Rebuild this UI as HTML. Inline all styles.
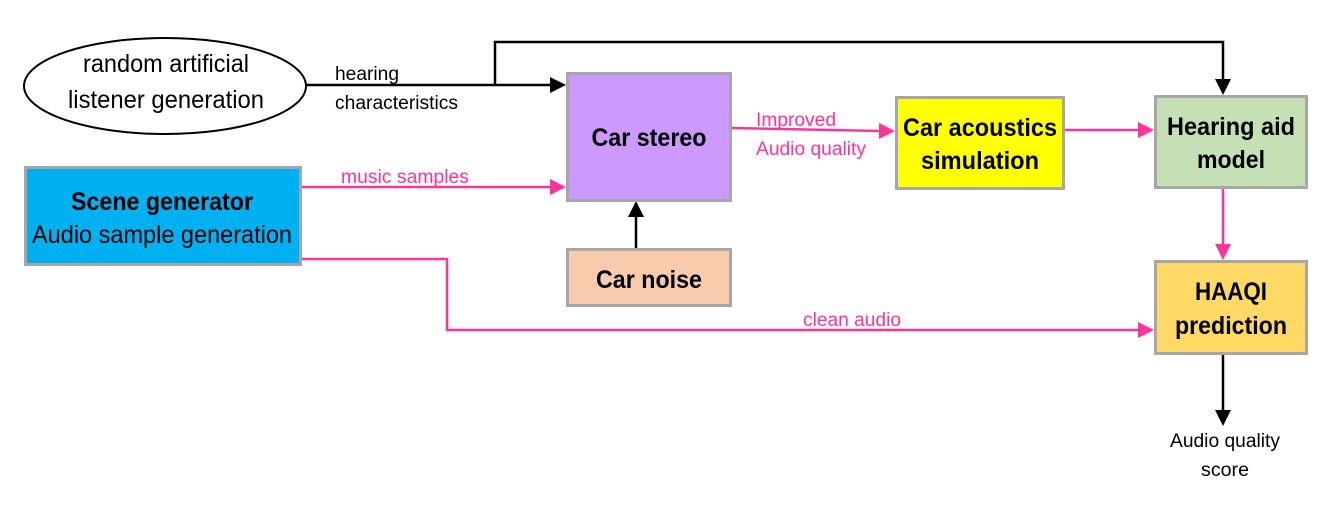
<!DOCTYPE html>
<html><head><meta charset="utf-8"><style>
html,body{margin:0;padding:0;background:#fff;}
svg{display:block;font-family:"Liberation Sans Narrow","Liberation Sans",Arial,sans-serif;}
</style></head><body>
<svg width="1342" height="505" viewBox="0 0 1342 505" xmlns="http://www.w3.org/2000/svg">
<!-- connectors -->
<g fill="none" stroke-width="2.5">
<path d="M306,85 H552" stroke="#000"/>
<path d="M495,85 V42 H1223 V80" stroke="#000"/>
<path d="M301,187 H552" stroke="#ff3399"/>
<path d="M636,248 V215" stroke="#000"/>
<path d="M731,128 L880,131" stroke="#ff3399"/>
<path d="M1064,130 H1140" stroke="#ff3399"/>
<path d="M1223,188 V246" stroke="#ff3399"/>
<path d="M301,259 H447 V330 H1140" stroke="#ff3399"/>
<path d="M1223,355 V412" stroke="#000"/>
</g>
<g>
<path d="M566,85 L550,77 L550,93 z" fill="#000"/>
<path d="M1223,95 L1215,79 L1231,79 z" fill="#000"/>
<path d="M566,187 L550,179 L550,195 z" fill="#ff3399"/>
<path d="M636,201 L628,217 L644,217 z" fill="#000"/>
<path d="M895,131 L879,123 L879,139 z" fill="#ff3399"/>
<path d="M1154,130 L1138,122 L1138,138 z" fill="#ff3399"/>
<path d="M1223,260 L1215,244 L1231,244 z" fill="#ff3399"/>
<path d="M1154,330 L1138,322 L1138,338 z" fill="#ff3399"/>
<path d="M1223,426 L1215,410 L1231,410 z" fill="#000"/>
</g>
<!-- nodes -->
<ellipse cx="165" cy="86" rx="141" ry="48" fill="#fff" stroke="#000" stroke-width="2"/>
<rect x="567.5" y="73.5" width="163" height="127" fill="#cc99ff" stroke="#a6a6a6" stroke-width="3"/>
<rect x="25.5" y="167.5" width="275" height="97" fill="#00b0f0" stroke="#a6a6a6" stroke-width="3"/>
<rect x="567.5" y="249.5" width="163" height="56" fill="#f8cbad" stroke="#a6a6a6" stroke-width="3"/>
<rect x="896.5" y="97.5" width="167" height="91" fill="#ffff00" stroke="#a6a6a6" stroke-width="3"/>
<rect x="1155.5" y="96.5" width="151" height="91" fill="#c5e0b4" stroke="#a6a6a6" stroke-width="3"/>
<rect x="1155.5" y="261.5" width="151" height="92" fill="#ffd966" stroke="#a6a6a6" stroke-width="3"/>
<!-- text -->
<g fill="#000" text-anchor="middle" font-size="25">
<text x="166" y="72" textLength="166" lengthAdjust="spacingAndGlyphs">random artificial</text>
<text x="166" y="108" textLength="196" lengthAdjust="spacingAndGlyphs">listener generation</text>
<text x="162" y="210" font-weight="bold" textLength="182" lengthAdjust="spacingAndGlyphs">Scene generator</text>
<text x="162" y="243" textLength="260" lengthAdjust="spacingAndGlyphs">Audio sample generation</text>
<text x="649" y="146" font-weight="bold" textLength="115" lengthAdjust="spacingAndGlyphs">Car stereo</text>
<text x="649" y="288" font-weight="bold" textLength="106" lengthAdjust="spacingAndGlyphs">Car noise</text>
<text x="980" y="136" font-weight="bold" textLength="154" lengthAdjust="spacingAndGlyphs">Car acoustics</text>
<text x="980" y="169" font-weight="bold" textLength="118" lengthAdjust="spacingAndGlyphs">simulation</text>
<text x="1231" y="135" font-weight="bold" textLength="128" lengthAdjust="spacingAndGlyphs">Hearing aid</text>
<text x="1231" y="168" font-weight="bold" textLength="68" lengthAdjust="spacingAndGlyphs">model</text>
<text x="1231" y="300" font-weight="bold" textLength="72" lengthAdjust="spacingAndGlyphs">HAAQI</text>
<text x="1231" y="334" font-weight="bold" textLength="112" lengthAdjust="spacingAndGlyphs">prediction</text>
</g>
<g font-size="19">
<text x="335" y="80" fill="#000" textLength="64" lengthAdjust="spacingAndGlyphs">hearing</text>
<text x="335" y="109" fill="#000" textLength="123" lengthAdjust="spacingAndGlyphs">characteristics</text>
<text x="341" y="183" fill="#ff3399" textLength="128" lengthAdjust="spacingAndGlyphs">music samples</text>
<text x="756" y="126" fill="#ff3399" textLength="80" lengthAdjust="spacingAndGlyphs">Improved</text>
<text x="756" y="155" fill="#ff3399" textLength="110" lengthAdjust="spacingAndGlyphs">Audio quality</text>
<text x="803" y="326" fill="#ff3399" textLength="98" lengthAdjust="spacingAndGlyphs">clean audio</text>
<text x="1225" y="447" fill="#000" text-anchor="middle" textLength="110" lengthAdjust="spacingAndGlyphs">Audio quality</text>
<text x="1225" y="476" fill="#000" text-anchor="middle" textLength="48" lengthAdjust="spacingAndGlyphs">score</text>
</g>
</svg>
</body></html>
